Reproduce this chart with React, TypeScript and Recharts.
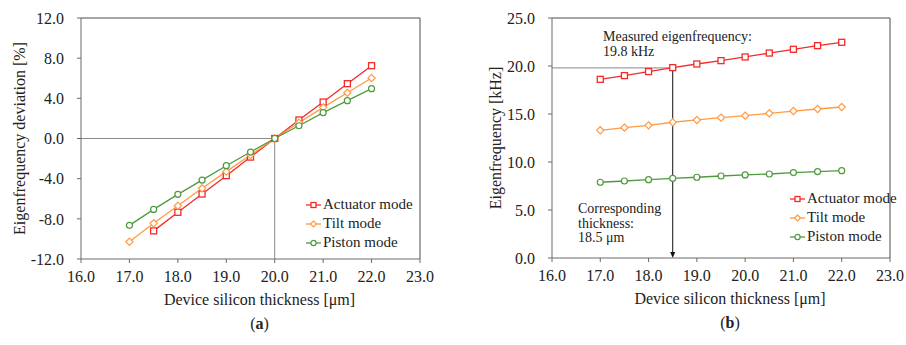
import React from "react"
import {
  LineChart,
  Line,
  XAxis,
  YAxis,
  ReferenceLine,
  Legend,
  Customized,
} from "recharts"

// device silicon thickness [µm]
const thickness = [17, 17.5, 18, 18.5, 19, 19.5, 20, 20.5, 21, 21.5, 22]
const xTicks = [16, 17, 18, 19, 20, 21, 22, 23]

// (a) eigenfrequency deviation [%]
const actuatorDev = [null, -9.2, -7.35, -5.53, -3.7, -1.85, 0, 1.84, 3.63, 5.46, 7.25]
const tiltDev = [-10.28, -8.45, -6.7, -4.96, -3.3, -1.65, 0, 1.57, 3.1, 4.56, 6.02]
const pistonDev = [-8.65, -7.06, -5.56, -4.14, -2.71, -1.35, 0, 1.27, 2.57, 3.77, 4.96]
const deviationTicks = [-12, -8, -4, 0, 4, 8, 12]

// (b) eigenfrequency [kHz]
const actuatorFreq = [18.61, 19.0, 19.42, 19.83, 20.21, 20.56, 20.94, 21.35, 21.74, 22.12, 22.47]
const tiltFreq = [13.3, 13.58, 13.82, 14.14, 14.38, 14.62, 14.83, 15.07, 15.31, 15.52, 15.73]
const pistonFreq = [7.89, 8.02, 8.16, 8.3, 8.41, 8.54, 8.65, 8.75, 8.9, 9.0, 9.1]
const freqTicks = [0, 5, 10, 15, 20, 25]

const measuredFreq = 19.8
const matchedThickness = 18.5

const FONT = "'Liberation Serif', 'Times New Roman', serif"
const AXIS = "#6a6a6a"
const FRAME = "#4a4a4a"
const TEXT = "#222"
const RED = "#f42a2a"
const ORANGE = "#ff9a45"
const GREEN = "#4f9a3f"

const devData = thickness.map((t, i) => ({
  t,
  actuator: actuatorDev[i],
  tilt: tiltDev[i],
  piston: pistonDev[i],
}))

const freqData = thickness.map((t, i) => ({
  t,
  actuator: actuatorFreq[i],
  tilt: tiltFreq[i],
  piston: pistonFreq[i],
}))

const fmt = (v: number) => v.toFixed(1)

const squareDot = (color: string) => (p: any) =>
  p.cx == null || p.cy == null ? (
    <g key={p.key} />
  ) : (
    <rect key={p.key} x={p.cx - 3} y={p.cy - 3} width={6} height={6} fill="#fff" stroke={color} strokeWidth={1.3} />
  )

const diamondDot = (color: string) => (p: any) =>
  p.cx == null || p.cy == null ? (
    <g key={p.key} />
  ) : (
    <polygon
      key={p.key}
      points={`${p.cx},${p.cy - 3.6} ${p.cx + 3.6},${p.cy} ${p.cx},${p.cy + 3.6} ${p.cx - 3.6},${p.cy}`}
      fill="#fff"
      stroke={color}
      strokeWidth={1.2}
    />
  )

const circleDot = (color: string) => (p: any) =>
  p.cx == null || p.cy == null ? (
    <g key={p.key} />
  ) : (
    <circle key={p.key} cx={p.cx} cy={p.cy} r={3} fill="#fff" stroke={color} strokeWidth={1.2} />
  )

const series = [
  { key: "actuator", name: "Actuator mode", color: RED, dot: squareDot, shape: "square" },
  { key: "tilt", name: "Tilt mode", color: ORANGE, dot: diamondDot, shape: "diamond" },
  { key: "piston", name: "Piston mode", color: GREEN, dot: circleDot, shape: "circle" },
]

const LegendIcon = ({ color, shape }: { color: string; shape: string }) => (
  <svg width={16} height={10} style={{ display: "block", marginRight: 1 }}>
    <line x1={0} y1={5} x2={15} y2={5} stroke={color} strokeWidth={1.3} />
    {shape === "square" && <rect x={5} y={2.5} width={5} height={5} fill="#fff" stroke={color} strokeWidth={1.3} />}
    {shape === "diamond" && <polygon points="7.5,2 10.5,5 7.5,8 4.5,5" fill="#fff" stroke={color} strokeWidth={1.2} />}
    {shape === "circle" && <circle cx={7.5} cy={5} r={2.6} fill="#fff" stroke={color} strokeWidth={1.2} />}
  </svg>
)

const renderLegend = () => (
  <div style={{ fontFamily: FONT, fontSize: 15, color: TEXT }}>
    {series.map((s) => (
      <div key={s.key} style={{ display: "flex", alignItems: "center", height: 19 }}>
        <LegendIcon color={s.color} shape={s.shape} />
        <span>{s.name}</span>
      </div>
    ))}
  </div>
)

// rotated y axis title at a fixed x inside the chart svg
const yTitle = (x: number, text: string) => (props: any) => {
  const vb = props.viewBox || {}
  const cy = vb.y + vb.height / 2
  return (
    <text
      x={x}
      y={cy}
      transform={`rotate(-90 ${x} ${cy})`}
      textAnchor="middle"
      dominantBaseline="central"
      fontFamily={FONT}
      fontSize={16}
      fill={TEXT}
    >
      {text}
    </text>
  )
}

// x axis title plus the panel letter below it
const xTitle = (letter: string) => (props: any) => {
  const vb = props.viewBox || {}
  const cx = vb.x + vb.width / 2 + 9
  return (
    <g>
      <text x={cx} y={vb.y + 46} textAnchor="middle" fontFamily={FONT} fontSize={16} fill={TEXT}>
        Device silicon thickness [μm]
      </text>
      <text x={cx} y={vb.y + 70} textAnchor="middle" fontFamily={FONT} fontSize={16} fill={TEXT}>
        (<tspan fontWeight="bold">{letter}</tspan>)
      </text>
    </g>
  )
}

const arrowLine = (props: any) => {
  const { x1, y1, x2, y2 } = props
  return (
    <g>
      <line x1={x1} y1={y1} x2={x2} y2={y2 - 4} stroke="#111" strokeWidth={1} />
      <polygon points={`${x2 - 2.5},${y2 - 6} ${x2 + 2.5},${y2 - 6} ${x2},${y2}`} fill="#111" />
      <circle cx={x1} cy={y1} r={1.6} fill="#111" />
    </g>
  )
}

const Annotations = () => (
  <g fontFamily={FONT} fontSize={14} fill={TEXT}>
    <text x={133} y={41}>Measured eigenfrequency:</text>
    <text x={133} y={56}>19.8 kHz</text>
    <text x={108} y={213}>Corresponding</text>
    <text x={108} y={228}>thickness:</text>
    <text x={108} y={242}>18.5 μm</text>
  </g>
)

const tickStyle = { fontFamily: FONT, fontSize: 16, fill: TEXT }

export default function App() {
  return (
    <div style={{ position: "absolute", left: 0, top: 0, width: 906, height: 345, background: "#fff" }}>
      <div style={{ position: "absolute", left: 0, top: 0 }}>
        <LineChart width={450} height={340} data={devData} margin={{ top: 18, right: 30, bottom: 51, left: 21 }}>
          <XAxis
            dataKey="t"
            type="number"
            domain={[16, 23]}
            ticks={xTicks}
            tickFormatter={fmt}
            height={30}
            stroke={AXIS}
            tickSize={4}
            tickMargin={8}
            tick={tickStyle}
            label={{ content: xTitle("a") }}
          />
          <YAxis
            type="number"
            domain={[-12, 12]}
            ticks={deviationTicks}
            tickFormatter={fmt}
            width={60}
            stroke={AXIS}
            tickSize={4}
            tickMargin={13}
            tick={tickStyle}
            label={{ content: yTitle(19, "Eigenfrequency  deviation [%]") }}
          />
          <ReferenceLine y={12} stroke={FRAME} />
          <ReferenceLine x={23} stroke={FRAME} />
          <ReferenceLine segment={[{ x: 16, y: 0 }, { x: 20, y: 0 }]} stroke="#8a8a8a" />
          <ReferenceLine segment={[{ x: 20, y: -12 }, { x: 20, y: 0 }]} stroke="#8a8a8a" />
          {series.map((s) => (
            <Line
              key={s.key}
              dataKey={s.key}
              name={s.name}
              stroke={s.color}
              strokeWidth={1.3}
              dot={s.dot(s.color)}
              activeDot={false}
              isAnimationActive={false}
            />
          ))}
          <Legend
            content={renderLegend}
            layout="vertical"
            align="center"
            verticalAlign="middle"
            wrapperStyle={{ left: 306, top: 195, width: 120 }}
          />
        </LineChart>
      </div>
      <div style={{ position: "absolute", left: 470, top: 0 }}>
        <LineChart width={436} height={340} data={freqData} margin={{ top: 18, right: 16, bottom: 52, left: 27 }}>
          <XAxis
            dataKey="t"
            type="number"
            domain={[16, 23]}
            ticks={xTicks}
            tickFormatter={fmt}
            height={30}
            stroke={AXIS}
            tickSize={4}
            tickMargin={8}
            tick={tickStyle}
            label={{ content: xTitle("b") }}
          />
          <YAxis
            type="number"
            domain={[0, 25]}
            ticks={freqTicks}
            tickFormatter={fmt}
            width={55}
            stroke={AXIS}
            tickSize={4}
            tickMargin={13}
            tick={tickStyle}
            label={{ content: yTitle(25, "Eigenfrequency [kHz]") }}
          />
          <ReferenceLine y={25} stroke={FRAME} />
          <ReferenceLine x={23} stroke={FRAME} />
          <ReferenceLine
            segment={[{ x: 16, y: measuredFreq }, { x: matchedThickness, y: measuredFreq }]}
            stroke="#8a8a8a"
          />
          <ReferenceLine
            segment={[{ x: matchedThickness, y: measuredFreq }, { x: matchedThickness, y: 0 }]}
            shape={arrowLine}
          />
          {series.map((s) => (
            <Line
              key={s.key}
              dataKey={s.key}
              name={s.name}
              stroke={s.color}
              strokeWidth={1.3}
              dot={s.dot(s.color)}
              activeDot={false}
              isAnimationActive={false}
            />
          ))}
          <Customized component={Annotations} />
          <Legend
            content={renderLegend}
            layout="vertical"
            align="center"
            verticalAlign="middle"
            wrapperStyle={{ left: 320, top: 189, width: 120 }}
          />
        </LineChart>
      </div>
    </div>
  )
}
